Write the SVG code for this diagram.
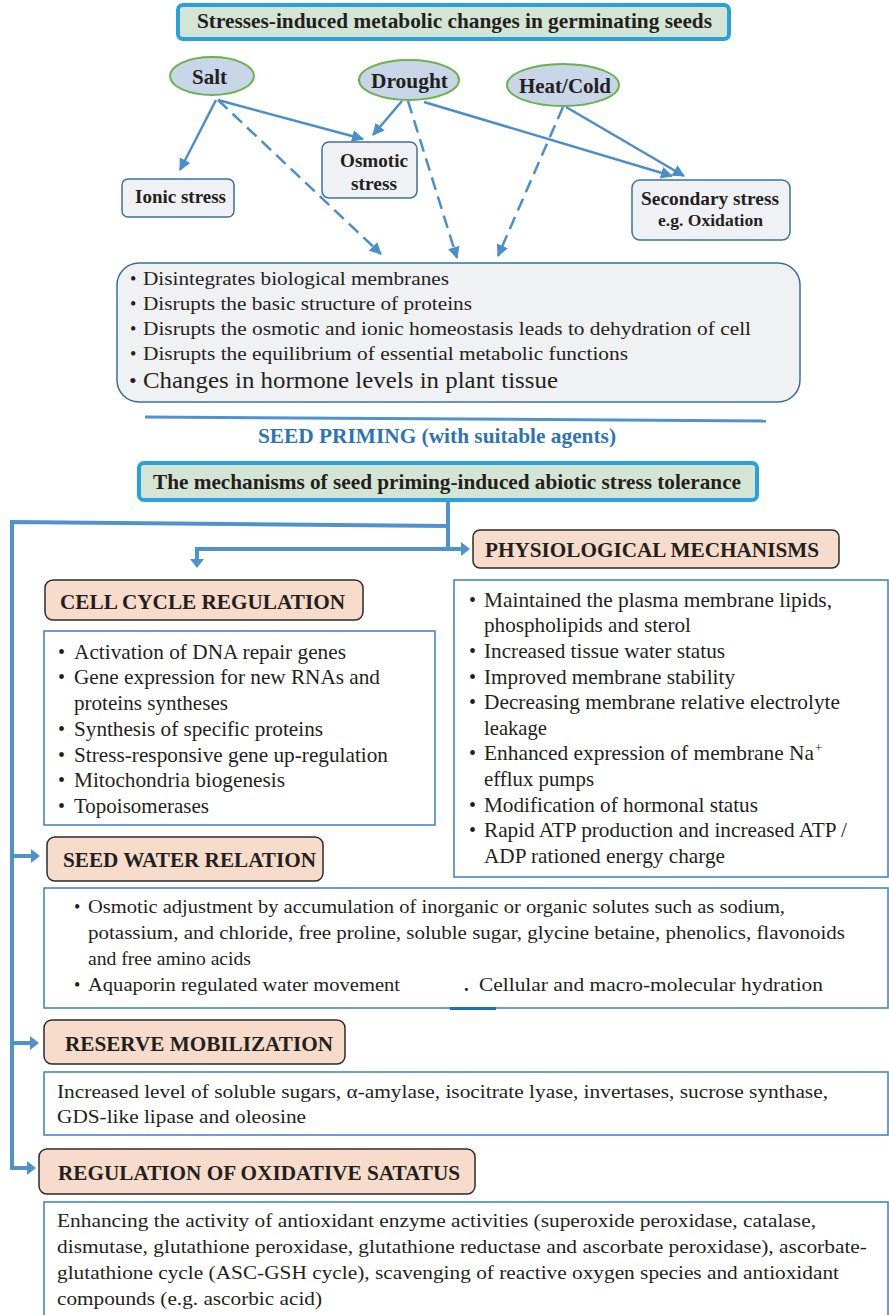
<svg xmlns="http://www.w3.org/2000/svg" width="889" height="1315" viewBox="0 0 889 1315">
  <style>
    .t { font-family: "Liberation Serif", "Times New Roman", serif; fill: #231f20; }
    .b { font-weight: bold; }
    .title { fill: #d5e5d5; stroke: #27a2db; stroke-width: 4; }
    .oval { fill: #c9d6e8; stroke: #6bb24f; stroke-width: 2; }
    .stress { fill: #eff1f4; stroke: #3d6fa0; stroke-width: 1.5; }
    .head { fill: #f7dccb; stroke: #2b2b2b; stroke-width: 1.5; }
    .list { fill: #ffffff; stroke: #3a7fc4; stroke-width: 1.5; }
    .con { fill: none; stroke: #4a8fcc; stroke-width: 2.5; }
    .dash { stroke-dasharray: 13 7; }
    .bus { fill: none; stroke: #4f92cc; stroke-width: 4; }
  </style>
  <defs>
    <marker id="tri" markerUnits="userSpaceOnUse" markerWidth="14" markerHeight="14" refX="11" refY="6" orient="auto">
      <path d="M0,0 L12,6 L0,12 z" fill="#4a8fcc"/>
    </marker>
    <marker id="blk" markerUnits="userSpaceOnUse" markerWidth="12" markerHeight="16" refX="1" refY="7" orient="auto">
      <path d="M0,0 L9,7 L0,14 z" fill="#4f92cc"/>
    </marker>
  </defs>

  <!-- header -->
  <g id="title-stress">
    <rect class="title" x="178" y="5" width="551" height="34" rx="5"/>
    <text class="t b" x="197" y="28" font-size="21" textLength="515" lengthAdjust="spacingAndGlyphs">Stresses-induced metabolic changes in germinating seeds</text>
  </g>

  <!-- stress sources -->
  <g id="salt">
    <ellipse class="oval" cx="212" cy="76" rx="42" ry="19"/>
    <text class="t b" x="192" y="84" font-size="21" textLength="35" lengthAdjust="spacingAndGlyphs">Salt</text>
  </g>
  <g id="drought">
    <ellipse class="oval" cx="409" cy="80" rx="50" ry="20"/>
    <text class="t b" x="371" y="88" font-size="21" textLength="77" lengthAdjust="spacingAndGlyphs">Drought</text>
  </g>
  <g id="heat-cold">
    <ellipse class="oval" cx="563" cy="85" rx="56" ry="21"/>
    <text class="t b" x="519" y="93" font-size="21" textLength="92" lengthAdjust="spacingAndGlyphs">Heat/Cold</text>
  </g>

  <!-- stress types -->
  <g id="ionic">
    <rect class="stress" x="122" y="179" width="112" height="38" rx="6"/>
    <text class="t b" x="135" y="203" font-size="19" textLength="91" lengthAdjust="spacingAndGlyphs">Ionic stress</text>
  </g>
  <g id="osmotic">
    <rect class="stress" x="322" y="142" width="95" height="56" rx="7"/>
    <text class="t b" x="340" y="167" font-size="19" textLength="68" lengthAdjust="spacingAndGlyphs">Osmotic</text>
    <text class="t b" x="351" y="190" font-size="19" textLength="46" lengthAdjust="spacingAndGlyphs">stress</text>
  </g>
  <g id="secondary">
    <rect class="stress" x="632" y="180" width="158" height="60" rx="8"/>
    <text class="t b" x="641" y="205" font-size="19" textLength="138" lengthAdjust="spacingAndGlyphs">Secondary stress</text>
    <text class="t b" x="658" y="226" font-size="17.5" textLength="105" lengthAdjust="spacingAndGlyphs">e.g. Oxidation</text>
  </g>

  <!-- effects -->
  <g id="effects">
    <rect x="117" y="263" width="683" height="139" rx="22" fill="#f0f1f3" stroke="#3a6d9f" stroke-width="1.5"/>
    <text class="t" x="130" y="285" font-size="18">•</text>
    <text class="t" x="143" y="285" font-size="18.5" textLength="306" lengthAdjust="spacingAndGlyphs">Disintegrates biological membranes</text>
    <text class="t" x="130" y="310" font-size="18">•</text>
    <text class="t" x="143" y="310" font-size="18.5" textLength="329" lengthAdjust="spacingAndGlyphs">Disrupts the basic structure of proteins</text>
    <text class="t" x="130" y="335" font-size="18">•</text>
    <text class="t" x="143" y="335" font-size="18.5" textLength="608" lengthAdjust="spacingAndGlyphs">Disrupts the osmotic and ionic homeostasis leads to dehydration of cell</text>
    <text class="t" x="130" y="360" font-size="18">•</text>
    <text class="t" x="143" y="360" font-size="18.5" textLength="485" lengthAdjust="spacingAndGlyphs">Disrupts the equilibrium of essential metabolic functions</text>
    <text class="t" x="129" y="388" font-size="22">•</text>
    <text class="t" x="143" y="388" font-size="22.5" textLength="415" lengthAdjust="spacingAndGlyphs">Changes in hormone levels in plant tissue</text>
  </g>

  <!-- priming -->
  <g id="priming">
    <path d="M145,417 L766,421" fill="none" stroke="#4f92cc" stroke-width="3"/>
    <text class="t b" x="258" y="443" font-size="21" style="fill:#2e74b5" textLength="358" lengthAdjust="spacingAndGlyphs">SEED PRIMING (with suitable agents)</text>
  </g>

  <g id="title-mechanisms">
    <rect class="title" x="139" y="463" width="618" height="37" rx="5"/>
    <text class="t b" x="153" y="489" font-size="21" textLength="588" lengthAdjust="spacingAndGlyphs">The mechanisms of seed priming-induced abiotic stress tolerance</text>
  </g>

  <!-- connectors -->
  <g id="connectors">
    <path class="con" d="M216,100 L180,170" marker-end="url(#tri)"/>
    <path class="con" d="M218,100 L363,139" marker-end="url(#tri)"/>
    <path class="con dash" d="M218,100 L381,254" marker-end="url(#tri)"/>
    <path class="con" d="M402,101 L373,135" marker-end="url(#tri)"/>
    <path class="con dash" d="M408,101 L457,258" marker-end="url(#tri)"/>
    <path class="con" d="M424,102 L672,176" marker-end="url(#tri)"/>
    <path class="con" d="M566,107 L684,176" marker-end="url(#tri)"/>
    <path class="con dash" d="M563,107 L498,256" marker-end="url(#tri)"/>

    <path class="bus" d="M448,500 V549 H462" marker-end="url(#blk)"/>
    <path class="bus" d="M448,549 H197 V560" marker-end="url(#blk)"/>
    <path class="bus" d="M448,526 L12,522 V1168 H28" marker-end="url(#blk)"/>
    <path class="bus" d="M12,856 H32" marker-end="url(#blk)"/>
    <path class="bus" d="M12,1043 H31" marker-end="url(#blk)"/>
  </g>

  <!-- physiological mechanisms -->
  <g id="physiological">
    <rect class="head" x="473" y="530" width="366" height="38" rx="7"/>
    <text class="t b" x="485" y="557" font-size="20.5" textLength="334" lengthAdjust="spacingAndGlyphs">PHYSIOLOGICAL MECHANISMS</text>
  </g>
  <g id="physiological-list">
    <rect class="list" x="454" y="580" width="434" height="297"/>
    <text class="t" x="469" y="607" font-size="20">•</text>
    <text class="t" x="484" y="607" font-size="21" textLength="348" lengthAdjust="spacingAndGlyphs">Maintained the plasma membrane lipids,</text>
    <text class="t" x="484" y="632" font-size="21" textLength="207" lengthAdjust="spacingAndGlyphs">phospholipids and sterol</text>
    <text class="t" x="469" y="658" font-size="20">•</text>
    <text class="t" x="484" y="658" font-size="21" textLength="241" lengthAdjust="spacingAndGlyphs">Increased tissue water status</text>
    <text class="t" x="469" y="684" font-size="20">•</text>
    <text class="t" x="484" y="684" font-size="21" textLength="251" lengthAdjust="spacingAndGlyphs">Improved membrane stability</text>
    <text class="t" x="469" y="709" font-size="20">•</text>
    <text class="t" x="484" y="709" font-size="21" textLength="356" lengthAdjust="spacingAndGlyphs">Decreasing membrane relative electrolyte</text>
    <text class="t" x="484" y="735" font-size="21" textLength="63" lengthAdjust="spacingAndGlyphs">leakage</text>
    <text class="t" x="469" y="760" font-size="20">•</text>
    <text class="t" x="484" y="760" font-size="21" textLength="330" lengthAdjust="spacingAndGlyphs">Enhanced expression of membrane Na</text>
    <text class="t" x="815" y="752" font-size="13">+</text>
    <text class="t" x="484" y="786" font-size="21" textLength="110" lengthAdjust="spacingAndGlyphs">efflux pumps</text>
    <text class="t" x="469" y="812" font-size="20">•</text>
    <text class="t" x="484" y="812" font-size="21" textLength="274" lengthAdjust="spacingAndGlyphs">Modification of hormonal status</text>
    <text class="t" x="469" y="837" font-size="20">•</text>
    <text class="t" x="484" y="837" font-size="21" textLength="363" lengthAdjust="spacingAndGlyphs">Rapid ATP production and increased ATP /</text>
    <text class="t" x="484" y="863" font-size="21" textLength="241" lengthAdjust="spacingAndGlyphs">ADP rationed energy charge</text>
  </g>

  <!-- cell cycle regulation -->
  <g id="cell-cycle">
    <rect class="head" x="45" y="580" width="318" height="40" rx="8"/>
    <text class="t b" x="60" y="609" font-size="21" textLength="285" lengthAdjust="spacingAndGlyphs">CELL CYCLE REGULATION</text>
  </g>
  <g id="cell-cycle-list">
    <rect class="list" x="44" y="631" width="391" height="194"/>
    <text class="t" x="58" y="659" font-size="20">•</text>
    <text class="t" x="74" y="659" font-size="21" textLength="272" lengthAdjust="spacingAndGlyphs">Activation of DNA repair genes</text>
    <text class="t" x="58" y="684" font-size="20">•</text>
    <text class="t" x="74" y="684" font-size="21" textLength="306" lengthAdjust="spacingAndGlyphs">Gene expression for new RNAs and</text>
    <text class="t" x="74" y="710" font-size="21" textLength="154" lengthAdjust="spacingAndGlyphs">proteins syntheses</text>
    <text class="t" x="58" y="736" font-size="20">•</text>
    <text class="t" x="74" y="736" font-size="21" textLength="249" lengthAdjust="spacingAndGlyphs">Synthesis of specific proteins</text>
    <text class="t" x="58" y="762" font-size="20">•</text>
    <text class="t" x="74" y="762" font-size="21" textLength="314" lengthAdjust="spacingAndGlyphs">Stress-responsive gene up-regulation</text>
    <text class="t" x="58" y="787" font-size="20">•</text>
    <text class="t" x="74" y="787" font-size="21" textLength="211" lengthAdjust="spacingAndGlyphs">Mitochondria biogenesis</text>
    <text class="t" x="58" y="813" font-size="20">•</text>
    <text class="t" x="74" y="813" font-size="21" textLength="135" lengthAdjust="spacingAndGlyphs">Topoisomerases</text>
  </g>

  <!-- seed water relation -->
  <g id="seed-water">
    <rect class="head" x="47" y="837" width="276" height="44" rx="8"/>
    <text class="t b" x="63" y="867" font-size="21" textLength="253" lengthAdjust="spacingAndGlyphs">SEED WATER RELATION</text>
  </g>
  <g id="seed-water-list">
    <rect class="list" x="44" y="888" width="844" height="120"/>
    <text class="t" x="74" y="913" font-size="18">•</text>
    <text class="t" x="88" y="913" font-size="19" textLength="697" lengthAdjust="spacingAndGlyphs">Osmotic adjustment by accumulation of inorganic or organic solutes such as sodium,</text>
    <text class="t" x="88" y="939" font-size="19" textLength="757" lengthAdjust="spacingAndGlyphs">potassium, and chloride, free proline, soluble sugar, glycine betaine, phenolics, flavonoids</text>
    <text class="t" x="88" y="965" font-size="19" textLength="163" lengthAdjust="spacingAndGlyphs">and free amino acids</text>
    <text class="t" x="74" y="991" font-size="18">•</text>
    <text class="t" x="88" y="991" font-size="19" textLength="312" lengthAdjust="spacingAndGlyphs">Aquaporin regulated water movement</text>
    <text class="t b" x="464" y="991" font-size="19">.</text>
    <text class="t" x="479" y="991" font-size="19" textLength="344" lengthAdjust="spacingAndGlyphs">Cellular and macro-molecular hydration</text>
    <rect x="450" y="1007" width="46" height="3" fill="#1f6fb4"/>
  </g>

  <!-- reserve mobilization -->
  <g id="reserve">
    <rect class="head" x="44" y="1020" width="301" height="44" rx="8"/>
    <text class="t b" x="65" y="1051" font-size="20" textLength="268" lengthAdjust="spacingAndGlyphs">RESERVE MOBILIZATION</text>
  </g>
  <g id="reserve-list">
    <rect class="list" x="44" y="1072" width="844" height="63"/>
    <text class="t" x="57" y="1098" font-size="19.5" textLength="771" lengthAdjust="spacingAndGlyphs">Increased level of soluble sugars, α-amylase, isocitrate lyase, invertases, sucrose synthase,</text>
    <text class="t" x="57" y="1123" font-size="19.5" textLength="249" lengthAdjust="spacingAndGlyphs">GDS-like lipase and oleosine</text>
  </g>

  <!-- oxidative status -->
  <g id="oxidative">
    <rect class="head" x="39" y="1149" width="436" height="45" rx="8"/>
    <text class="t b" x="58" y="1180" font-size="20" textLength="402" lengthAdjust="spacingAndGlyphs">REGULATION OF OXIDATIVE SATATUS</text>
  </g>
  <g id="oxidative-list">
    <rect class="list" x="44" y="1202" width="844" height="130"/>
    <text class="t" x="57" y="1227" font-size="19.5" textLength="759" lengthAdjust="spacingAndGlyphs">Enhancing the activity of antioxidant enzyme activities (superoxide peroxidase, catalase,</text>
    <text class="t" x="57" y="1253" font-size="19.5" textLength="810" lengthAdjust="spacingAndGlyphs">dismutase, glutathione peroxidase, glutathione reductase and ascorbate peroxidase), ascorbate-</text>
    <text class="t" x="57" y="1279" font-size="19.5" textLength="782" lengthAdjust="spacingAndGlyphs">glutathione cycle (ASC-GSH cycle), scavenging of reactive oxygen species and antioxidant</text>
    <text class="t" x="57" y="1305" font-size="19.5" textLength="265" lengthAdjust="spacingAndGlyphs">compounds (e.g. ascorbic acid)</text>
  </g>
</svg>
